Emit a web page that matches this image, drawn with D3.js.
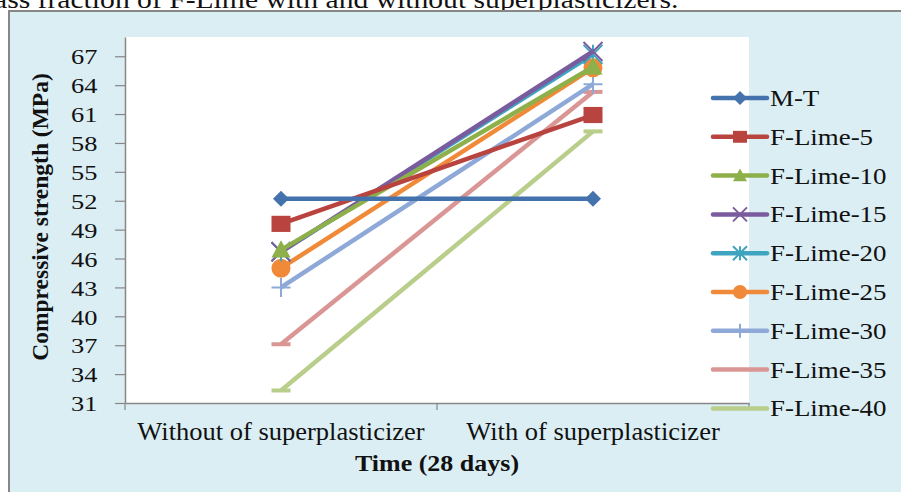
<!DOCTYPE html>
<html>
<head>
<meta charset="utf-8">
<script src="https://cdn.jsdelivr.net/npm/d3@7/dist/d3.min.js"></script>
<style>
  body { margin: 0; background: #fff; }
  svg { display: block; font-family: "Liberation Serif", "Times New Roman", serif; }
</style>
</head>
<body>
<script>
// Data
const categories = ['Without of superplasticizer', 'With of superplasticizer'];
const seriesNames = ['M-T', 'F-Lime-5', 'F-Lime-10', 'F-Lime-15', 'F-Lime-20', 'F-Lime-25', 'F-Lime-30', 'F-Lime-35', 'F-Lime-40'];
const mT = [52.2, 52.2];
const fLime5 = [49.6, 60.9];
const fLime10 = [46.9, 65.9];
const fLime15 = [46.7, 67.5];
const fLime20 = [46.7, 67.2];
const fLime25 = [45.0, 65.8];
const fLime30 = [43.0, 64.1];
const fLime35 = [37.1, 63.3];
const fLime40 = [32.3, 59.2];
const yTicks = [31, 34, 37, 40, 43, 46, 49, 52, 55, 58, 61, 64, 67];

const seriesValues = [mT, fLime5, fLime10, fLime15, fLime20, fLime25, fLime30, fLime35, fLime40];
const colors = ['#4372AC', '#B8433F', '#8EB04A', '#7A5C9E', '#3FA4C0', '#F08A38', '#8EA9D8', '#D99694', '#B9CE8B'];
const markers = ['diamond', 'square', 'triangle', 'x', 'star', 'circle', 'plus', 'dash', 'dash'];

const width = 901, height = 492;
const plot = { left: 125, right: 749, top: 37, bottom: 403 };

const svg = d3.select('body').append('svg')
  .attr('width', width)
  .attr('height', height);

// stretched text helper: the source picture is wider than plain Times
function sText(parent, x, y, str, size, sx) {
  return parent.append('text')
    .attr('transform', `translate(${x},${y}) scale(${sx},1)`)
    .style('font-size', size + 'px')
    .attr('fill', '#111')
    .text(str);
}

// caption fragment above the chart
sText(svg, -6, 8, 'ass fraction of F-Lime with and without superplasticizers.', 26, 1.14);

// chart area
svg.append('rect')
  .attr('x', 9).attr('y', 11)
  .attr('width', width).attr('height', height)
  .attr('fill', '#DBEEF4')
  .attr('stroke', '#878787')
  .attr('stroke-width', 2);

svg.append('rect')
  .attr('x', plot.left).attr('y', plot.top)
  .attr('width', plot.right - plot.left).attr('height', plot.bottom - plot.top)
  .attr('fill', '#fff');

const x = d3.scaleBand().domain(categories).range([plot.left, plot.right]);
const y = d3.scaleLinear().domain([31, 69]).range([plot.bottom, plot.top]);

// y axis
const yAxis = svg.append('g')
  .attr('transform', `translate(${plot.left},0)`)
  .call(d3.axisLeft(y).tickValues(yTicks).tickSize(10).tickPadding(13).tickSizeOuter(0));
yAxis.select('.domain').attr('stroke', '#878787').attr('stroke-width', 1.5);
yAxis.selectAll('.tick line').attr('stroke', '#878787').attr('stroke-width', 1.2);
yAxis.selectAll('.tick text')
  .attr('dy', '0.35em')
  .attr('transform', 'scale(1.2,1)')
  .style('font-family', '"Liberation Serif", serif')
  .style('font-size', '22px')
  .attr('fill', '#111');

// x axis
const xAxis = svg.append('g')
  .attr('transform', `translate(0,${plot.bottom})`)
  .call(d3.axisBottom(x).tickSize(0).tickPadding(19));
xAxis.select('.domain').attr('stroke', '#878787').attr('stroke-width', 1.5);
xAxis.selectAll('.tick text')
  .attr('transform', 'scale(1.06,1)')
  .style('font-family', '"Liberation Serif", serif')
  .style('font-size', '25px')
  .attr('fill', '#111');
// category boundary ticks
xAxis.selectAll('.bound')
  .data([plot.left, plot.left + x.bandwidth(), plot.right])
  .enter().append('line')
  .attr('x1', d => d).attr('x2', d => d)
  .attr('y1', 0).attr('y2', 7)
  .attr('stroke', '#878787').attr('stroke-width', 1.2);

// axis titles
svg.append('text')
  .attr('transform', `translate(48,${(plot.top + plot.bottom) / 2 - 3}) rotate(-90)`)
  .attr('text-anchor', 'middle')
  .style('font-size', '23.5px')
  .style('font-weight', 'bold')
  .attr('fill', '#111')
  .text('Compressive strength (MPa)');

sText(svg, (plot.left + plot.right) / 2, 471, 'Time (28 days)', 23, 1.13)
  .attr('text-anchor', 'middle')
  .style('font-weight', 'bold');

function drawMarker(g, type, color, s) {
  const h = s / 2;
  if (type === 'diamond') {
    g.append('path').attr('d', `M0,${-h}L${h},0L0,${h}L${-h},0Z`).attr('fill', color);
  } else if (type === 'square') {
    g.append('rect').attr('x', -h).attr('y', -h * 0.85).attr('width', s).attr('height', s * 0.85).attr('fill', color);
  } else if (type === 'triangle') {
    g.append('path').attr('d', `M0,${-h}L${h},${h * 0.8}L${-h},${h * 0.8}Z`).attr('fill', color);
  } else if (type === 'circle') {
    g.append('circle').attr('r', h).attr('fill', color);
  } else if (type === 'x') {
    g.append('path').attr('d', `M${-h},${-h}L${h},${h}M${-h},${h}L${h},${-h}`)
      .attr('stroke', color).attr('stroke-width', 2).attr('fill', 'none');
  } else if (type === 'star') {
    g.append('path').attr('d', `M${-h},${-h}L${h},${h}M${-h},${h}L${h},${-h}M0,${-h}L0,${h}`)
      .attr('stroke', color).attr('stroke-width', 2).attr('fill', 'none');
  } else if (type === 'plus') {
    g.append('path').attr('d', `M${-h},0L${h},0M0,${-h}L0,${h}`)
      .attr('stroke', color).attr('stroke-width', 2).attr('fill', 'none');
  } else if (type === 'dash') {
    g.append('path').attr('d', `M${-h},0L${h},0`)
      .attr('stroke', color).attr('stroke-width', 4).attr('fill', 'none');
  }
}

const line = d3.line()
  .x((d, i) => x(categories[i]) + x.bandwidth() / 2)
  .y(d => y(d));

// draw in reverse so M-T sits on top
const order = d3.range(seriesNames.length).reverse();
order.forEach(si => {
  const g = svg.append('g');
  g.append('path')
    .datum(seriesValues[si])
    .attr('d', line)
    .attr('fill', 'none')
    .attr('stroke', colors[si])
    .attr('stroke-width', 4.5)
    .attr('stroke-linejoin', 'round');
  seriesValues[si].forEach((v, i) => {
    const m = g.append('g')
      .attr('transform', `translate(${x(categories[i]) + x.bandwidth() / 2},${y(v)})`);
    drawMarker(m, markers[si], colors[si], markers[si] === 'diamond' ? 16 : 19);
  });
});

// legend
const legend = svg.append('g');
seriesNames.forEach((name, i) => {
  const ly = 98 + i * 38.8;
  const row = legend.append('g').attr('transform', `translate(0,${ly})`);
  row.append('line')
    .attr('x1', 713).attr('x2', 767)
    .attr('stroke', colors[i]).attr('stroke-width', 4.5).attr('stroke-linecap', 'round');
  const m = row.append('g').attr('transform', 'translate(740,0)');
  drawMarker(m, markers[i] === 'dash' ? 'none' : markers[i], colors[i], 14);
  sText(row, 770, 0, name, 23, 1.17).attr('dy', '0.35em');
});
</script>
</body>
</html>
